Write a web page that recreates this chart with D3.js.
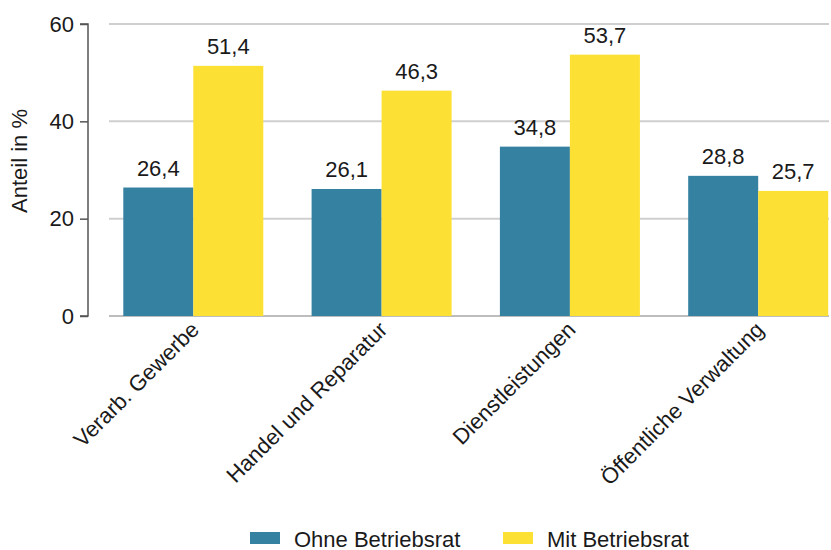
<!DOCTYPE html>
<html>
<head>
<meta charset="utf-8">
<script src="https://cdn.jsdelivr.net/npm/d3@7"></script>
<style>
  html, body { margin: 0; padding: 0; background: #fff; }
  svg { display: block; }
  text { font-family: "Liberation Sans", Arial, sans-serif; fill: #1a1a1a; }
</style>
</head>
<body>
<svg id="chart" width="831" height="550"></svg>
<script>
const categories = ["Verarb. Gewerbe", "Handel und Reparatur", "Dienstleistungen", "Öffentliche Verwaltung"];
const seriesNames = ["Ohne Betriebsrat", "Mit Betriebsrat"];
const ohneBetriebsrat = [26.4, 26.1, 34.8, 28.8];
const mitBetriebsrat = [51.4, 46.3, 53.7, 25.7];
const yTicks = [0, 20, 40, 60];
const yLabel = "Anteil in %";
const colors = ["#3481a1", "#fde034"];

const seriesValues = [ohneBetriebsrat, mitBetriebsrat];
const data = categories.map((c, i) => ({
  cat: c,
  values: seriesNames.map((s, j) => ({ series: s, idx: j, value: seriesValues[j][i] }))
}));

const svg = d3.select("#chart");
const fs = 22;

const y = d3.scaleLinear().domain([0, 60]).range([316, 24]);
const x0 = d3.scaleBand().domain(categories).range([99.15, 852.35])
  .paddingInner(0.2565).paddingOuter(0.12825);
const x1 = d3.scaleBand().domain(seriesNames).range([0, x0.bandwidth()]).padding(0);
const color = d3.scaleOrdinal().domain(seriesNames).range(colors);

// gridlines
svg.append("g").selectAll("line").data(yTicks).join("line")
  .attr("x1", 109).attr("x2", 829)
  .attr("y1", d => y(d)).attr("y2", d => y(d))
  .attr("stroke", d => d === 0 ? "#bdbdbd" : "#cfcfcf")
  .attr("stroke-width", 2);

// y axis
const yAxis = d3.axisLeft(y).tickValues(yTicks).tickSize(8).tickPadding(6)
  .tickFormat(d3.format("d"));
const gy = svg.append("g").attr("transform", "translate(88,0)").call(yAxis);
gy.select(".domain").attr("stroke", "#555").attr("stroke-width", 1.5)
  .attr("d", `M-8,${y(60)}H0V${y(0)}H-8`);
gy.selectAll(".tick line").attr("stroke", "#555").attr("stroke-width", 1.5);
gy.selectAll(".tick text").attr("font-size", fs).attr("fill", "#1a1a1a")
  .attr("font-family", "'Liberation Sans', Arial, sans-serif");

// y label
svg.append("text")
  .attr("transform", `translate(27,161) rotate(-90)`)
  .attr("text-anchor", "middle")
  .attr("font-size", fs)
  .text(yLabel);

// bars
const groups = svg.append("g").selectAll("g").data(data).join("g")
  .attr("transform", d => `translate(${x0(d.cat)},0)`);

groups.selectAll("rect").data(d => d.values).join("rect")
  .attr("x", d => x1(d.series))
  .attr("width", x1.bandwidth())
  .attr("y", d => y(d.value))
  .attr("height", d => y(0) - y(d.value))
  .attr("fill", d => color(d.series));

groups.selectAll("text.val").data(d => d.values).join("text")
  .attr("class", "val")
  .attr("x", d => x1(d.series) + x1.bandwidth() / 2)
  .attr("y", d => y(d.value) - 12)
  .attr("text-anchor", "middle")
  .attr("font-size", fs)
  .text(d => d3.format(".1f")(d.value).replace(".", ","));

// x labels
svg.append("g").selectAll("text").data(categories).join("text")
  .attr("transform", d => `translate(${x0(d) + x0.bandwidth() / 2 + 7},331) rotate(-45)`)
  .attr("text-anchor", "end")
  .attr("font-size", fs)
  .text(d => d);

// legend
const legend = svg.append("g");
const legendX = [250, 503];
seriesNames.forEach((s, i) => {
  legend.append("rect").attr("x", legendX[i]).attr("y", 532)
    .attr("width", 30).attr("height", 12).attr("fill", color(s));
  legend.append("text").attr("x", legendX[i] + 44).attr("y", 546.5)
    .attr("font-size", fs).text(s);
});
</script>
</body>
</html>
